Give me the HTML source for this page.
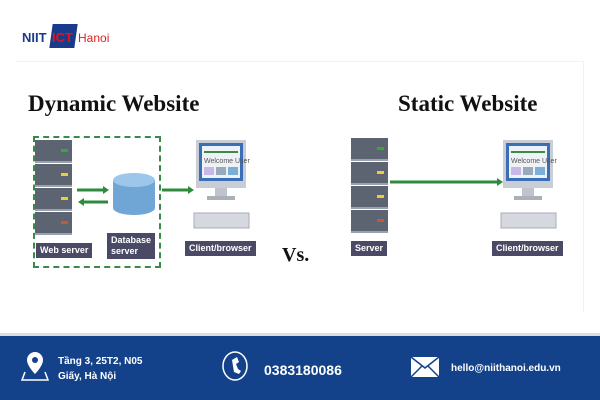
<!DOCTYPE html><html><head><style>
body{margin:0;width:600px;height:400px;position:relative;background:#fff;font-family:"Liberation Sans",sans-serif;overflow:hidden}
.a{position:absolute}
.t{font-family:"Liberation Serif",serif;font-weight:bold;font-size:23px;color:#111}
.lb{position:absolute;background:#4a4a66;color:#fff;font-size:9px;font-weight:bold;padding:2px 4px;line-height:11px}
.srv{position:absolute;width:37px}
.u{height:21px;background:#5b6470;border-bottom:2px solid #9aa3ad;margin-bottom:1px;position:relative}
.u i{position:absolute;right:4px;top:9px;width:7px;height:3px}
</style></head><body>
<div class="a" style="left:22px;top:30px;font-weight:bold;font-size:13px;color:#1a3a8c">NIIT</div>
<div class="a" style="left:51px;top:24px;width:25px;height:24px;background:#1a3a8c;transform:skewX(-8deg)"></div>
<div class="a" style="left:52px;top:30px;font-weight:bold;font-size:13px;color:#e11;">ICT</div>
<div class="a" style="left:78px;top:31px;font-size:12px;color:#d22">Hanoi</div>
<div class="a" style="left:15px;top:61px;width:568px;height:250px;border-top:1px solid #f6f3e6;border-right:1px solid #f6f3e6"></div>
<div class="a t" style="left:28px;top:91px">Dynamic Website</div>
<div class="a t" style="left:398px;top:91px">Static Website</div>
<div class="a t" style="left:282px;top:244px;font-size:20px">Vs.</div>
<div class="a" style="left:33px;top:136px;width:124px;height:128px;border:2px dashed #3c8a4a"></div>
<div class="srv" style="left:35px;top:140px"><div class="u"><i style="background:#3a3"></i></div><div class="u"><i style="background:#ec3"></i></div><div class="u"><i style="background:#ec3"></i></div><div class="u"><i style="background:#c53"></i></div></div>
<div class="srv" style="left:351px;top:138px"><div class="u"><i style="background:#3a3"></i></div><div class="u"><i style="background:#ec3"></i></div><div class="u"><i style="background:#ec3"></i></div><div class="u"><i style="background:#c53"></i></div></div>
<svg class="a" style="left:0;top:0" width="600" height="400">
<g stroke="#2e8b3e" stroke-width="3" fill="#2e8b3e">
<line x1="77" y1="190" x2="104" y2="190"/><polygon points="103,186 109,190 103,194" stroke-width="0"/>
<line x1="84" y1="202" x2="108" y2="202"/><polygon points="84,198 78,202 84,206" stroke-width="0"/>
<line x1="162" y1="190" x2="189" y2="190"/><polygon points="188,186 194,190 188,194" stroke-width="0"/>
<line x1="390" y1="182" x2="498" y2="182"/><polygon points="497,178 503,182 497,186" stroke-width="0"/>
</g>
<path d="M113,180 v28 a21,7 0 0 0 42,0 v-28 z" fill="#6fa6d6"/>
<ellipse cx="134" cy="180" rx="21" ry="7" fill="#9cc6ea"/>
<g id="m">
<rect x="196" y="140" width="50" height="48" fill="#c9ced6"/>
<rect x="199" y="143" width="44" height="38" fill="#3a6fb5"/>
<rect x="202" y="146" width="38" height="32" fill="#eef1f6"/>
<rect x="204" y="151" width="34" height="2" fill="#3c8a4a"/>
<text x="204" y="163" font-size="7" fill="#555" font-family="Liberation Sans">Welcome User</text>
<rect x="204" y="167" width="10" height="8" fill="#c8b8e8"/><rect x="216" y="167" width="10" height="8" fill="#9ab"/><rect x="228" y="167" width="10" height="8" fill="#7ab0d8"/>
<rect x="215" y="188" width="12" height="8" fill="#bfc4cc"/><rect x="207" y="196" width="28" height="4" fill="#aab0b8"/>
<rect x="194" y="213" width="55" height="15" fill="#d5d9df" stroke="#aab" />
</g>
<use href="#m" x="307" y="0"/>
</svg>
<div class="lb" style="left:36px;top:243px">Web server</div>
<div class="lb" style="left:107px;top:233px;width:40px">Database server</div>
<div class="lb" style="left:185px;top:241px">Client/browser</div>
<div class="lb" style="left:351px;top:241px">Server</div>
<div class="lb" style="left:492px;top:241px">Client/browser</div>
<div class="a" style="left:0;top:333px;width:600px;height:3px;background:#ddd"></div>
<div class="a" style="left:0;top:336px;width:600px;height:64px;background:#13428a;color:#fff;font-weight:bold">
<svg class="a" style="left:20px;top:14px" width="32" height="32"><path d="M15,2 a8,8 0 0 1 8,8 c0,6 -8,14 -8,14 c0,0 -8,-8 -8,-14 a8,8 0 0 1 8,-8z" fill="#fff"/><circle cx="15" cy="10" r="3" fill="#13428a"/><path d="M5,22 L2,30 H28 L25,22" fill="none" stroke="#fff" stroke-width="1.5"/></svg>
<div class="a" style="left:58px;top:18px;font-size:10px;line-height:15px">Tầng 3, 25T2, N05<br>Giấy, Hà Nội</div>
<svg class="a" style="left:220px;top:14px" width="32" height="32"><ellipse cx="15" cy="16" rx="12" ry="14" fill="none" stroke="#fff" stroke-width="1.5"/><path d="M17,7 l-5,3 l2,12 l5,2 l2,-3 l-3,-2 l-2,-5 l3,-2z" fill="#fff"/></svg>
<div class="a" style="left:264px;top:26px;font-size:14px">0383180086</div>
<svg class="a" style="left:410px;top:20px" width="30" height="22"><rect x="1" y="1" width="28" height="20" fill="#fff"/><path d="M1,1 L15,12 L29,1 M1,21 L12,10 M29,21 L18,10" stroke="#13428a" stroke-width="1.5" fill="none"/></svg>
<div class="a" style="left:451px;top:27px;font-size:10px">hello@niithanoi.edu.vn</div>
</div>
</body></html>
